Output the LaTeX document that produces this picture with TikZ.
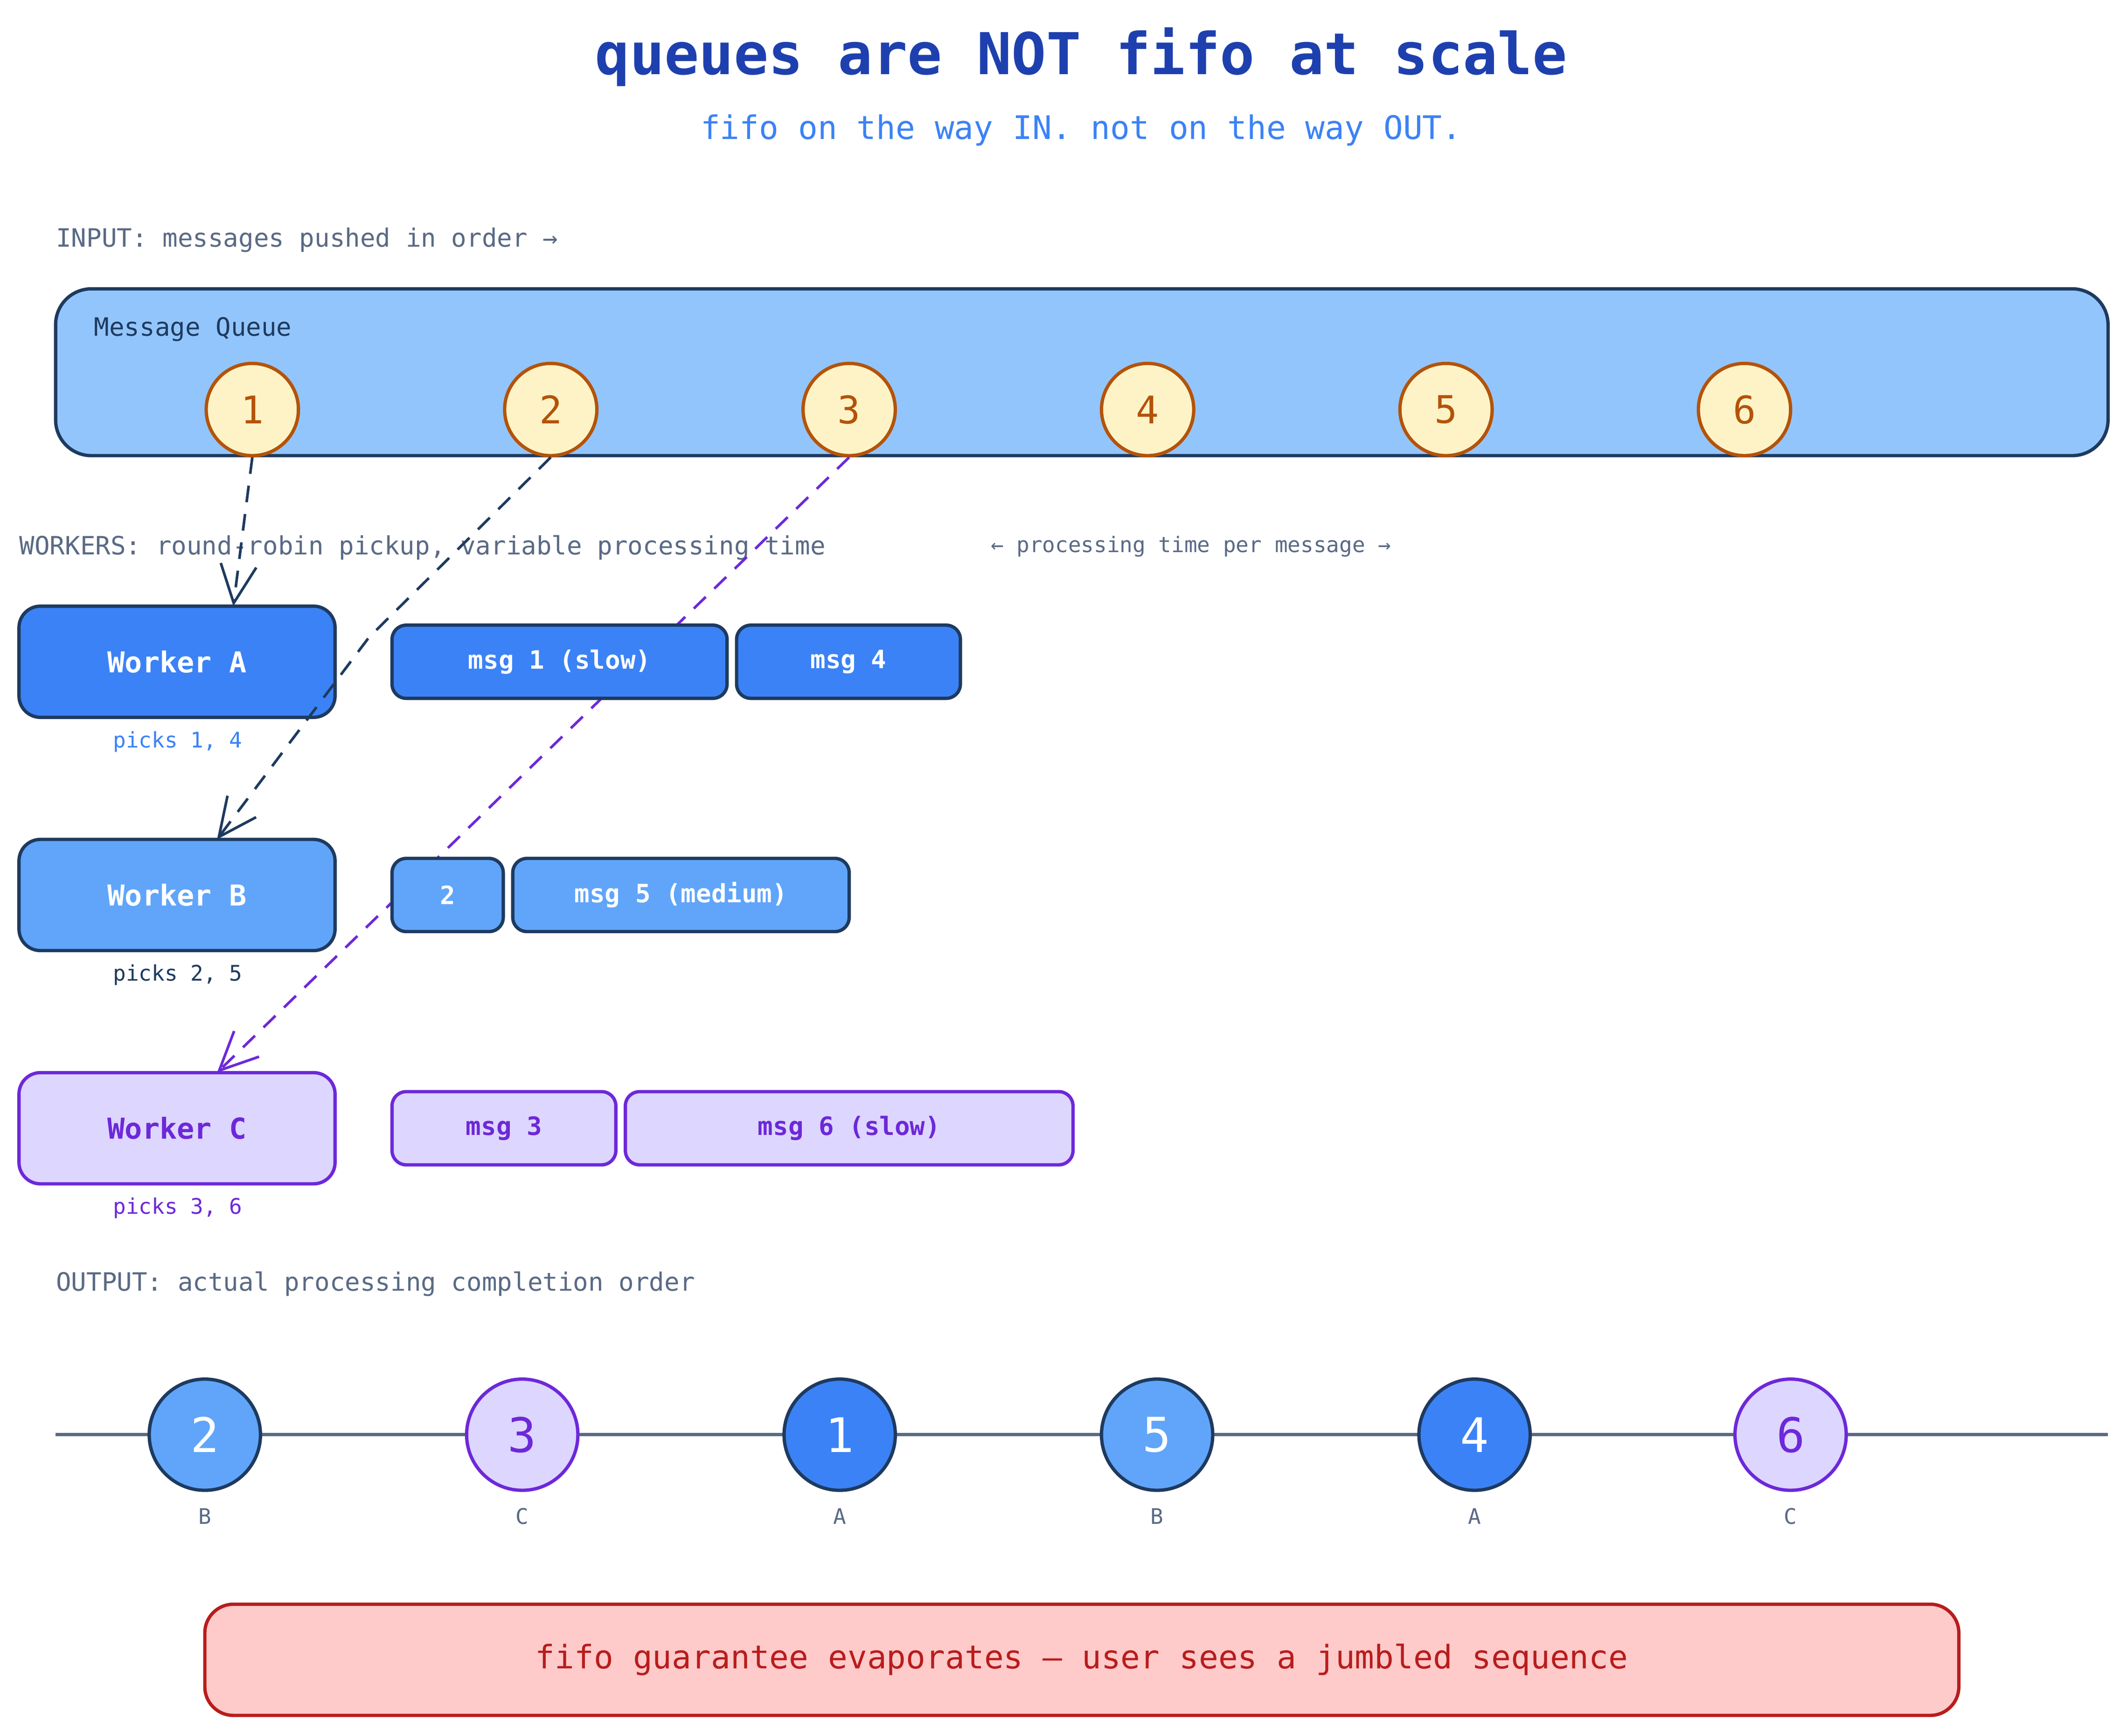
\documentclass[tikz,border=0pt]{standalone}
\usepackage{fontspec}
\setmainfont{DejaVu Sans Mono}
\usetikzlibrary{arrows.meta}
\definecolor{navy}{HTML}{1E3A5F}
\definecolor{blueA}{HTML}{3B82F6}
\definecolor{blueB}{HTML}{60A5FA}
\definecolor{queuefill}{HTML}{93C5FD}
\definecolor{lav}{HTML}{DDD6FE}
\definecolor{purp}{HTML}{6D28D9}
\definecolor{cream}{HTML}{FEF3C7}
\definecolor{amber}{HTML}{B45309}
\definecolor{slate}{HTML}{5A6A85}
\definecolor{titleblue}{HTML}{1E40AF}
\definecolor{pinkfill}{HTML}{FECACA}
\definecolor{redd}{HTML}{B91C1C}
\begin{document}
\begin{tikzpicture}[x=0.02cm,y=-0.02cm,
  lbl/.style={anchor=west,text=slate,font=\fontsize{10.6pt}{12pt}\selectfont},
  box/.style={draw,line width=1.4pt,rounded corners=#1},
  qc/.style={circle,draw=amber,fill=cream,line width=1.4pt,minimum size=68*0.02cm,inner sep=0pt,text=amber,font=\fontsize{16pt}{18pt}\selectfont},
  oc/.style={circle,line width=1.4pt,minimum size=82*0.02cm,inner sep=0pt,font=\fontsize{20pt}{22pt}\selectfont},
  ocA/.style={oc,draw=navy,fill=blueA,text=white},
  ocB/.style={oc,draw=navy,fill=blueB,text=white},
  ocC/.style={oc,draw=purp,fill=lav,text=purp},
  small/.style={text=slate,font=\fontsize{9pt}{10pt}\selectfont},
  wtxt/.style={font=\fontsize{12.1pt}{14pt}\selectfont\bfseries},
  btxt/.style={font=\fontsize{10.6pt}{12pt}\selectfont\bfseries},
  conn/.style={line width=1.1pt,dash pattern=on 7pt off 5pt,-{Straight Barb[length=16pt,width=15pt,line width=1.1pt]}}
]
\useasboundingbox (0,0) rectangle (1568,1280);
\node[text=titleblue,font=\fontsize{24.2pt}{28pt}\selectfont\bfseries] (title) at (797,42) {queues are NOT fifo at scale};
\node[text=blueA,font=\fontsize{13.6pt}{16pt}\selectfont] (sub) at (797,96) {fifo on the way IN. not on the way OUT.};
\node[lbl,inner sep=0pt] (inlbl) at (41,177) {INPUT: messages pushed in order →};
\draw[box=15pt,draw=navy,fill=queuefill] (41,213) rectangle (1554,336);
\node[anchor=west,inner sep=0pt,text=navy,font=\fontsize{10.6pt}{12pt}\selectfont] (qlbl) at (69,243) {Message Queue};
\foreach \i/\x in {1/186,2/406,3/626,4/846,5/1066,6/1286}
  \node[qc] (q\i) at (\x,302) {\i};
\node[lbl,inner sep=0pt] (wlbl) at (14,404) {WORKERS: round-robin pickup, variable processing time};
\node[anchor=west,inner sep=0pt,small] (ptlbl) at (730,403) {← processing time per message →};
\node[box=9pt,draw=navy,fill=blueA,text=white,wtxt,minimum width=233*0.02cm,minimum height=82*0.02cm] (wA) at (130.5,488) {Worker A};
\node[box=9pt,draw=navy,fill=blueB,text=white,wtxt,minimum width=233*0.02cm,minimum height=82*0.02cm] (wB) at (130.5,660) {Worker B};
\node[box=9pt,draw=purp,fill=lav,text=purp,wtxt,minimum width=233*0.02cm,minimum height=82*0.02cm] (wC) at (130.5,832) {Worker C};
\node[text=blueA,font=\fontsize{9pt}{10pt}\selectfont] (pA) at (131,547) {picks 1, 4};
\node[text=navy,font=\fontsize{9pt}{10pt}\selectfont] (pB) at (131,719) {picks 2, 5};
\node[text=purp,font=\fontsize{9pt}{10pt}\selectfont] (pC) at (131,891) {picks 3, 6};
\coordinate (a1) at (172,447);
\coordinate (b1) at (272,470);
\coordinate (b2) at (160,619);
\coordinate (c1) at (160,791);
\draw[conn,draw=navy] (q1.south) -- (a1);
\draw[conn,draw=navy] (q2.south) -- (b1) -- (b2);
\draw[conn,draw=purp] (q3.south) -- (c1);
\tikzset{bar/.style={box=6pt,btxt,minimum height=54*0.02cm,inner sep=0pt}}
\node[bar,draw=navy,fill=blueA,text=white,minimum width=247*0.02cm] (m1) at (412.5,488) {msg 1 (slow)};
\node[bar,draw=navy,fill=blueA,text=white,minimum width=165*0.02cm] (m4) at (625.5,488) {msg 4};
\node[bar,draw=navy,fill=blueB,text=white,minimum width=82*0.02cm] (m2) at (330,660) {2};
\node[bar,draw=navy,fill=blueB,text=white,minimum width=248*0.02cm] (m5) at (502,660) {msg 5 (medium)};
\node[bar,draw=purp,fill=lav,text=purp,minimum width=165*0.02cm] (m3) at (371.5,832) {msg 3};
\node[bar,draw=purp,fill=lav,text=purp,minimum width=330*0.02cm] (m6) at (626,832) {msg 6 (slow)};
\node[lbl,inner sep=0pt] (olbl) at (41,947) {OUTPUT: actual processing completion order};
\coordinate (l0) at (41,1058);
\coordinate (l1) at (1554,1058);
\draw[slate,line width=1.4pt] (l0) -- (l1);
\foreach \n/\x/\s/\w in {2/151/ocB/B,3/385/ocC/C,1/619/ocA/A,5/853/ocB/B,4/1087/ocA/A,6/1320/ocC/C}{
  \node[\s] (o\n) at (\x,1058) {\n};
  \node[small] (ol\n) at (\x,1118) {\w};
}
\node[box=12pt,draw=redd,fill=pinkfill,text=redd,font=\fontsize{13.6pt}{16pt}\selectfont,minimum width=1293*0.02cm,minimum height=82*0.02cm] (res) at (797.5,1224) {fifo guarantee evaporates — user sees a jumbled sequence};
\end{tikzpicture}
\end{document}
